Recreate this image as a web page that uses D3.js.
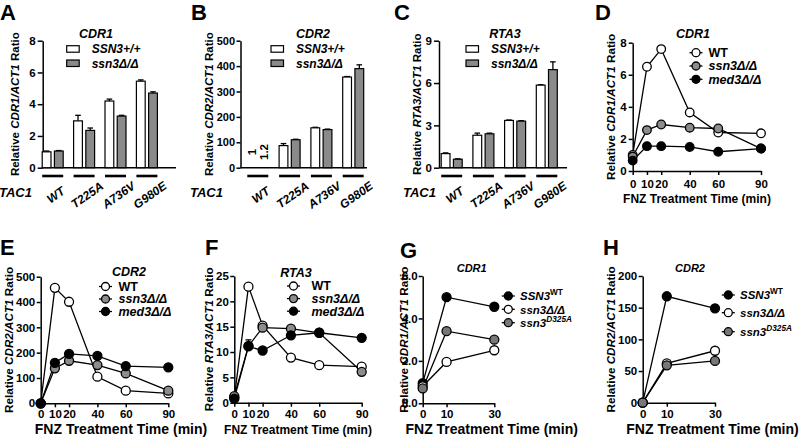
<!DOCTYPE html>
<html><head><meta charset="utf-8">
<script src="https://cdn.jsdelivr.net/npm/d3@7"></script>
<style>
body{margin:0;background:#fff}
svg{display:block;font-family:'Liberation Sans',Arial,sans-serif;font-weight:bold}
</style>
</head><body>
<svg id="c" width="800" height="437"></svg>
<script>
// ---------------- DATA ----------------
const barCategories = ["WT", "T225A", "A736V", "G980E"];
const barSeries = ["SSN3+/+", "ssn3Δ/Δ"];

const cdr1Wild    = [1.0, 2.95, 4.2, 5.45];
const cdr1WildErr = [0.05, 0.35, 0.12, 0.08];
const cdr1Del     = [1.05, 2.35, 3.25, 4.7];
const cdr1DelErr  = [0.03, 0.15, 0.05, 0.08];

const cdr2Wild    = [1, 87, 157, 357];
const cdr2WildErr = [0, 8, 2, 2];
const cdr2Del     = [1.2, 110, 150, 390];
const cdr2DelErr  = [0, 2, 2, 15];
const cdr2WtLabels = ["1", "1.2"];

const rta3Wild    = [1.0, 2.3, 3.35, 5.85];
const rta3WildErr = [0.05, 0.15, 0.03, 0.03];
const rta3Del     = [0.6, 2.4, 3.3, 6.95];
const rta3DelErr  = [0.03, 0.05, 0.03, 0.55];

const timeLong = [0, 10, 20, 40, 60, 90];
const lineSeries = ["WT", "ssn3Δ/Δ", "med3Δ/Δ"];

const dWT   = [1.0, 6.5, 7.6, 3.65, 2.4, 2.35];
const dSsn3 = [0.9, 2.55, 2.9, 2.7, 2.65, 1.4];
const dMed3 = [0.65, 1.55, 1.55, 1.5, 1.2, 1.4];

const eWT   = [0, 456, 401, 105, 50, 39];
const eSsn3 = [0, 138, 168, 151, 118, 50];
const eMed3 = [0, 160, 195, 187, 147, 142];

const fWT      = [1.0, 22.9, 15.2, 8.9, 7.4, 7.1];
const fSsn3    = [1.3, 11.2, 14.8, 14.6, 13.8, 6.1];
const fSsn3Err = [0, 1.2, 0.6, 0.5, 0.3, 0];
const fMed3    = [0.8, 11.1, 10.3, 13.3, 13.8, 12.8];

const timeShort = [0, 10, 30];
const shortSeriesBase = ["SSN3", "ssn3Δ/Δ", "ssn3"];
const shortSeriesSup  = ["WT", "", "D325A"];

const gWT    = [0.95, 5.0, 4.55];
const gDel   = [0.8, 1.95, 2.5];
const gD325A = [0.7, 3.4, 3.0];

const hWT    = [0, 168, 149];
const hDel   = [0, 62, 82];
const hD325A = [0, 59, 66];

// ---------------- DRAWING ----------------
const svg = d3.select("#c");
svg.append("rect").attr("width", 800).attr("height", 437).attr("fill", "#fff");

const GRAY = "#8c8c8c";
const BARGRAY = "#8a8a8a";

function panelLetter(t, x, y) {
  svg.append("text").attr("x", x).attr("y", y).style("font-size", "22px").text(t);
}

function yLabel(x, yc, gene, size) {
  const t = svg.append("text")
    .attr("transform", `translate(${x},${yc}) rotate(-90)`)
    .attr("text-anchor", "middle").style("font-size", size + "px");
  t.append("tspan").text("Relative ");
  t.append("tspan").style("font-style", "italic").text(gene + "/ACT1");
  t.append("tspan").text(" Ratio");
}

function styleAxis(g, fs) {
  g.select(".domain").attr("stroke-width", 1.5).attr("stroke", "#000");
  g.selectAll(".tick line").attr("stroke-width", 1.5).attr("stroke", "#000");
  g.selectAll(".tick text").style("font-size", fs + "px").style("font-weight", "bold")
    .style("font-family", "'Liberation Sans',Arial,sans-serif").attr("fill", "#000");
}

function barPanel(o) {
  const y = d3.scaleLinear().domain([0, o.yMax]).range([o.bottom, o.top]);
  const x = d3.scalePoint().domain(barCategories).range([o.firstC, o.firstC + 3 * o.step]);
  const xs = d3.scaleBand().domain(barSeries).range([-10.5, 10.5]).paddingInner(0.28);
  const vals = [o.wild, o.del], errs = [o.wildErr, o.delErr];
  const fills = ["#fff", BARGRAY];

  const ga = svg.append("g").attr("transform", `translate(${o.axisX},0)`)
    .call(d3.axisLeft(y).tickValues(o.yTicks).tickSize(o.tickSize).tickSizeOuter(0).tickPadding(o.tickPad));
  styleAxis(ga, o.tickFs);
  svg.append("line").attr("x1", o.axisX).attr("x2", o.xEnd)
    .attr("y1", y(0)).attr("y2", y(0)).attr("stroke", "#000").attr("stroke-width", 1.5);

  barSeries.forEach((s, si) => {
    const g = svg.append("g");
    const data = barCategories.map((c, i) => ({c, v: vals[si][i], e: errs[si][i]}));
    data.filter(d => d.e > 0 && y(0) - y(d.v) > 2).forEach(d => {
      const cx = x(d.c) + xs(s) + xs.bandwidth() / 2;
      g.append("line").attr("x1", cx).attr("x2", cx).attr("y1", y(d.v)).attr("y2", y(d.v + d.e))
        .attr("stroke", "#000").attr("stroke-width", 1.3);
      g.append("line").attr("x1", cx - 2.8).attr("x2", cx + 2.8).attr("y1", y(d.v + d.e)).attr("y2", y(d.v + d.e))
        .attr("stroke", "#000").attr("stroke-width", 1.3);
    });
    g.selectAll("rect").data(data.filter(d => y(0) - y(d.v) > 2)).join("rect")
      .attr("x", d => x(d.c) + xs(s))
      .attr("width", xs.bandwidth())
      .attr("y", d => y(d.v))
      .attr("height", d => y(0) - y(d.v))
      .attr("fill", fills[si]).attr("stroke", "#000").attr("stroke-width", 1.2);
  });

  if (o.tinyLabels) {
    o.tinyLabels.forEach((lab, si) => {
      const cx = x(barCategories[0]) + xs(barSeries[si]) + xs.bandwidth() / 2;
      svg.append("text").attr("transform", `translate(${cx + 4},${152}) rotate(-90)`)
        .attr("text-anchor", "middle").style("font-size", "11.5px").text(lab);
    });
  }

  barCategories.forEach(c => {
    svg.append("line").attr("x1", x(c) - 10.5).attr("x2", x(c) + 10.5)
      .attr("y1", 176).attr("y2", 176).attr("stroke", "#000").attr("stroke-width", 2.6);
    svg.append("text").attr("transform", `translate(${x(c) + 3},${195}) rotate(-35)`)
      .attr("text-anchor", "middle").attr("dy", "0.35em")
      .style("font-size", "12px").style("font-style", "italic").text(c);
  });
  svg.append("text").attr("x", o.tacX).attr("y", 197).style("font-size", "13px")
    .style("font-style", "italic").text("TAC1");

  svg.append("text").attr("x", o.titleX).attr("y", 38).attr("text-anchor", "middle")
    .style("font-size", "12.5px").style("font-style", "italic").text(o.gene);
  barSeries.forEach((s, si) => {
    const ry = 45.7 + si * 14.3;
    svg.append("rect").attr("x", o.legX).attr("y", ry).attr("width", 12.5).attr("height", 6.5)
      .attr("fill", fills[si]).attr("stroke", "#000").attr("stroke-width", 1.2);
    svg.append("text").attr("x", o.legX + 25).attr("y", ry + 7.6).style("font-size", "12px")
      .style("font-style", "italic").text(s);
  });
  yLabel(o.labX, (o.top + o.bottom) / 2, o.gene, 11.5);
  panelLetter(o.letter, o.letterX, 20);
}

barPanel({letter: "A", letterX: 0, gene: "CDR1", axisX: 42.7, top: 40.7, bottom: 167.7,
  firstC: 52.7, step: 31.4, xEnd: 176, yMax: 8, yTicks: [0, 2, 4, 6, 8], tickFs: 11.5, tickSize: 5, tickPad: 2,
  wild: cdr1Wild, wildErr: cdr1WildErr, del: cdr1Del, delErr: cdr1DelErr,
  tacX: -1, titleX: 96, legX: 66.7, labX: 19});
barPanel({letter: "B", letterX: 191, gene: "CDR2", axisX: 240.5, top: 40.7, bottom: 167.7,
  firstC: 257.8, step: 31.8, xEnd: 367, yMax: 500, yTicks: [0, 100, 200, 300, 400, 500], tickFs: 11, tickSize: 4, tickPad: 1.5,
  wild: cdr2Wild, wildErr: cdr2WildErr, del: cdr2Del, delErr: cdr2DelErr, tinyLabels: cdr2WtLabels,
  tacX: 190, titleX: 313, legX: 271, labX: 213.3});
barPanel({letter: "C", letterX: 394, gene: "RTA3", axisX: 439, top: 40.7, bottom: 167.7,
  firstC: 451.7, step: 31.7, xEnd: 567, yMax: 9, yTicks: [0, 3, 6, 9], tickFs: 11.5, tickSize: 5, tickPad: 2,
  wild: rta3Wild, wildErr: rta3WildErr, del: rta3Del, delErr: rta3DelErr,
  tacX: 403, titleX: 505, legX: 466, labX: 421});

function linePanel(o) {
  const x = d3.scaleLinear().domain([0, o.xMax]).range([o.axisX, o.xEnd]);
  const y = d3.scaleLinear().domain([0, o.yMax]).range([o.bottom, o.top]);
  const gy = svg.append("g").attr("transform", `translate(${o.axisX},0)`)
    .call(d3.axisLeft(y).tickValues(o.yTicks).tickSize(4).tickSizeOuter(0).tickPadding(o.yPad));
  styleAxis(gy, o.tickFs);
  const gx = svg.append("g").attr("transform", `translate(0,${o.bottom})`)
    .call(d3.axisBottom(x).tickValues(o.times).tickSize(4).tickSizeOuter(0).tickPadding(o.xPad));
  styleAxis(gx, o.tickFs);

  const line = d3.line().x((d, i) => x(o.times[i])).y(d => y(d));
  o.series.forEach(s => {
    svg.append("path").datum(s.v).attr("d", line).attr("fill", "none")
      .attr("stroke", "#000").attr("stroke-width", 1.3);
  });
  o.series.forEach(s => {
    if (s.err) {
      s.err.forEach((e, i) => {
        if (e <= 0) return;
        const cx = x(o.times[i]), y1 = y(s.v[i]), y2 = y(s.v[i] + e);
        svg.append("line").attr("x1", cx).attr("x2", cx).attr("y1", y1).attr("y2", y2)
          .attr("stroke", "#000").attr("stroke-width", 1.3);
        svg.append("line").attr("x1", cx - 3).attr("x2", cx + 3).attr("y1", y2).attr("y2", y2)
          .attr("stroke", "#000").attr("stroke-width", 1.3);
      });
    }
  });
  o.series.forEach(s => {
    svg.append("g").selectAll("circle").data(s.v).join("circle")
      .attr("cx", (d, i) => x(o.times[i])).attr("cy", d => y(d)).attr("r", o.r)
      .attr("fill", s.fill).attr("stroke", "#000").attr("stroke-width", 1.3);
  });

  o.series.forEach((s, i) => {
    const ry = o.legY[i];
    svg.append("line").attr("x1", o.legX - 6.5).attr("x2", o.legX + 6.5).attr("y1", ry).attr("y2", ry)
      .attr("stroke", "#000").attr("stroke-width", 1.3);
    svg.append("circle").attr("cx", o.legX).attr("cy", ry).attr("r", 4)
      .attr("fill", s.fill).attr("stroke", "#000").attr("stroke-width", 1.3);
    const t = svg.append("text").attr("x", o.legTextX).attr("y", ry + 4.3).style("font-size", o.legFs + "px");
    t.append("tspan").style("font-style", s.italic ? "italic" : "normal").text(s.name);
    if (s.sup) {
      t.append("tspan").attr("dy", -5).style("font-size", (o.legFs * 0.72) + "px")
        .style("font-style", s.supItalic ? "italic" : "normal").text(s.sup);
    }
  });

  svg.append("text").attr("x", o.titleX).attr("y", o.titleY).attr("text-anchor", "middle")
    .style("font-size", o.titleFs + "px").style("font-style", "italic").text(o.gene);
  svg.append("text").attr("x", o.xtX).attr("y", o.xtY).attr("text-anchor", "middle")
    .style("font-size", o.xtFs + "px").text("FNZ Treatment Time (min)");
  yLabel(o.labX, (o.top + o.bottom) / 2, o.gene, 11.7);
  panelLetter(o.letter, o.letterX, o.letterY);
}

const longSeries = (a, b, c, errB) => [
  {name: lineSeries[0], v: a, fill: "#fff", italic: false},
  {name: lineSeries[1], v: b, fill: GRAY, italic: true, err: errB},
  {name: lineSeries[2], v: c, fill: "#000", italic: true}
];
const shortSeries = (a, b, c) => [
  {name: shortSeriesBase[0], sup: shortSeriesSup[0], v: a, fill: "#000", italic: true, supItalic: false},
  {name: shortSeriesBase[1], sup: shortSeriesSup[1], v: b, fill: "#fff", italic: true},
  {name: shortSeriesBase[2], sup: shortSeriesSup[2], v: c, fill: "#777", italic: true, supItalic: true}
];

linePanel({letter: "D", letterX: 595, letterY: 20, gene: "CDR1", axisX: 632.7, xEnd: 761,
  top: 42.7, bottom: 171, xMax: 90, yMax: 8, yTicks: [0, 2, 4, 6, 8], times: timeLong,
  series: longSeries(dWT, dSsn3, dMed3), r: 4.3, tickFs: 11.5, yPad: 2, xPad: 5.3,
  legX: 696, legY: [52.7, 66, 79.3], legTextX: 708.5, legFs: 12.5,
  titleX: 693, titleY: 38, titleFs: 12.5, xtX: 697, xtY: 202.5, xtFs: 12, labX: 614.5});

linePanel({letter: "E", letterX: 0, letterY: 255, gene: "CDR2", axisX: 40.7, xEnd: 168.3,
  top: 276.7, bottom: 403.3, xMax: 90, yMax: 500, yTicks: [0, 100, 200, 300, 400, 500], times: timeLong,
  series: longSeries(eWT, eSsn3, eMed3), r: 4.5, tickFs: 11.5, yPad: 1.5, xPad: 3,
  legX: 105.5, legY: [286.5, 299, 311.5], legTextX: 118.5, legFs: 12.5,
  titleX: 129, titleY: 276.3, titleFs: 12.5, xtX: 121, xtY: 434.3, xtFs: 14, labX: 13});

linePanel({letter: "F", letterX: 205, letterY: 255, gene: "RTA3", axisX: 234.3, xEnd: 361.7,
  top: 276, bottom: 402.7, xMax: 90, yMax: 25, yTicks: [0, 5, 10, 15, 20, 25], times: timeLong,
  series: longSeries(fWT, fSsn3, fMed3, fSsn3Err), r: 4.5, tickFs: 11.5, yPad: 1.5, xPad: 3,
  legX: 293.5, legY: [286, 298.6, 311.2], legTextX: 311.5, legFs: 12.5,
  titleX: 296, titleY: 277, titleFs: 12.5, xtX: 298, xtY: 433.5, xtFs: 12, labX: 213.3});

linePanel({letter: "G", letterX: 400, letterY: 258, gene: "CDR1", axisX: 422.7, xEnd: 494.3,
  top: 276, bottom: 403.3, xMax: 30, yMax: 6, yTicks: [0, 2, 4, 6], times: timeShort,
  series: shortSeries(gWT, gDel, gD325A), r: 4.5, tickFs: 11.5, yPad: 1, xPad: 3,
  legX: 508.3, legY: [296, 309.3, 322.7], legTextX: 520, legFs: 11.5,
  titleX: 471.7, titleY: 271.7, titleFs: 11, xtX: 491.7, xtY: 434.3, xtFs: 14, labX: 408});

linePanel({letter: "H", letterX: 603, letterY: 255, gene: "CDR2", axisX: 642.7, xEnd: 715,
  top: 276, bottom: 402.7, xMax: 30, yMax: 200, yTicks: [0, 50, 100, 150, 200], times: timeShort,
  series: shortSeries(hWT, hDel, hD325A), r: 4.5, tickFs: 11.5, yPad: 1.5, xPad: 3,
  legX: 728.3, legY: [295, 312.7, 331.7], legTextX: 740, legFs: 11.5,
  titleX: 690, titleY: 271.7, titleFs: 11, xtX: 712.5, xtY: 434.3, xtFs: 14, labX: 614.5});
</script>
</body></html>
